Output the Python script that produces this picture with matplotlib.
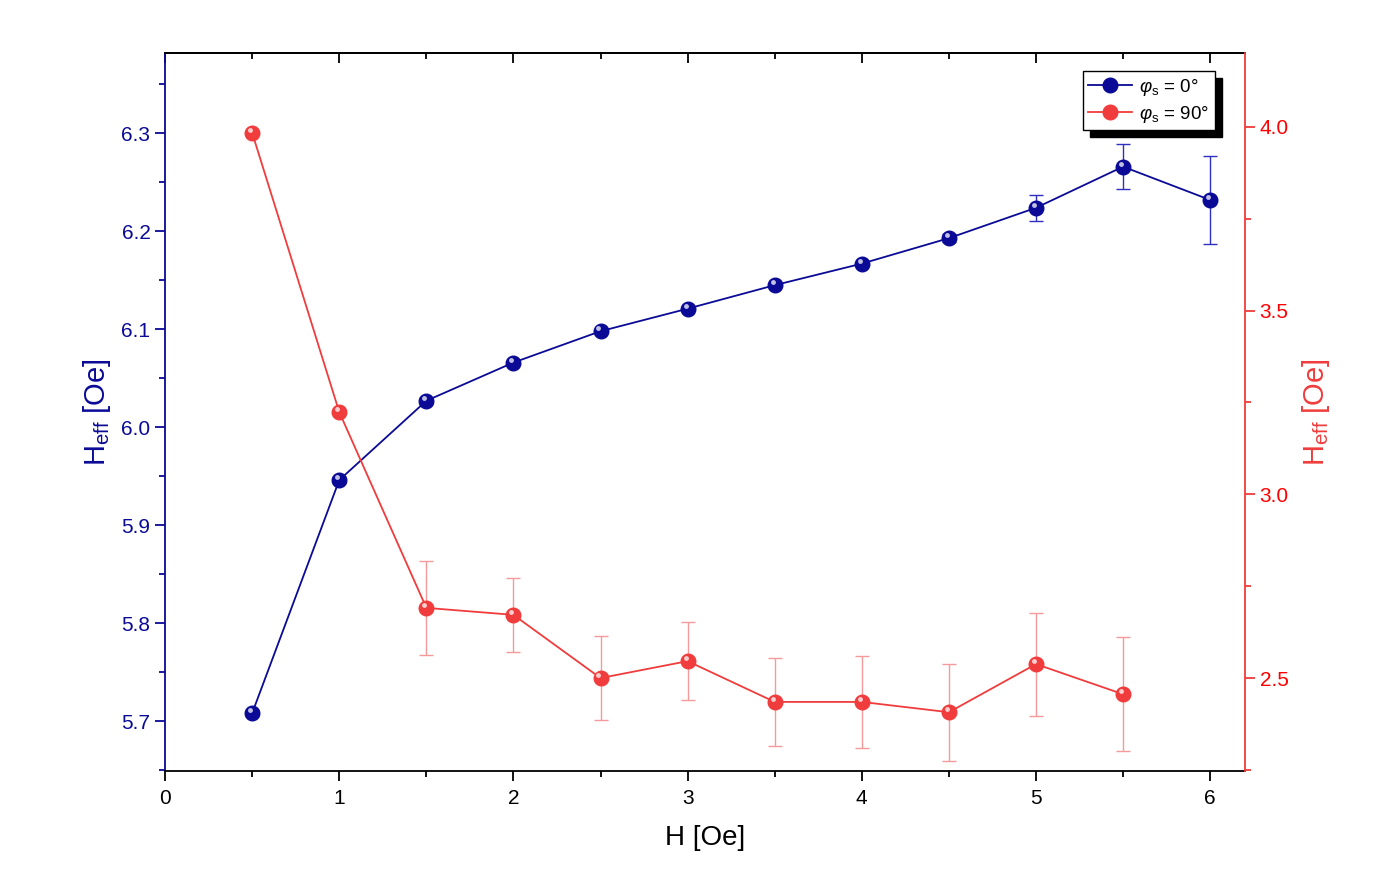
import numpy as np
import matplotlib
matplotlib.use("Agg")
import matplotlib.pyplot as plt
from matplotlib.ticker import MultipleLocator, FormatStrFormatter
from matplotlib.transforms import offset_copy

plt.rcParams["font.family"] = ["Liberation Sans", "DejaVu Sans"]
plt.rcParams["mathtext.fontset"] = "custom"
plt.rcParams["mathtext.rm"] = "Liberation Sans"
plt.rcParams["mathtext.it"] = "Liberation Sans:italic"

# data
h_field = [0.5, 1.0, 1.5, 2.0, 2.5, 3.0, 3.5, 4.0, 4.5, 5.0, 5.5, 6.0]
heff_0 = [5.708, 5.946, 6.027, 6.066, 6.098, 6.121, 6.145, 6.167, 6.193, 6.224, 6.266, 6.232]
err_0 = [0.003, 0.003, 0.003, 0.002, 0.002, 0.002, 0.002, 0.002, 0.004, 0.013, 0.023, 0.045]

h_field_90 = [0.5, 1.0, 1.5, 2.0, 2.5, 3.0, 3.5, 4.0, 4.5, 5.0, 5.5]
heff_90 = [3.984, 3.224, 2.691, 2.672, 2.500, 2.546, 2.435, 2.435, 2.407, 2.538, 2.456]
err_90 = [0.0, 0.0, 0.128, 0.100, 0.114, 0.107, 0.120, 0.125, 0.132, 0.140, 0.155]

blue = "#0a0a96"
red = "#f03c3c"

fig = plt.figure(figsize=(14, 8.96), dpi=100)
ax = fig.add_axes([0.1179, 0.1395, 0.7714, 0.8013])
ax2 = ax.twinx()


def draw_series(axis, x, y, err, color, ecolor, label):
    axis.errorbar(x, y, yerr=err, fmt="none", ecolor=ecolor, elinewidth=1.0,
                  capsize=5, capthick=1.0, zorder=2)
    line, = axis.plot(x, y, "-o", color=color, lw=1.3, ms=10.5,
                      mfc=color, mec=color, zorder=3, label=label)
    # little highlight to fake the shaded sphere look
    hl = offset_copy(axis.transData, fig=fig, x=-1.5, y=2.0, units="points")
    axis.plot(x, y, "o", ms=3.5, mfc="white", mec="none", alpha=0.75,
              transform=hl, zorder=4)
    return line


l1 = draw_series(ax, h_field, heff_0, err_0, blue, "#3030c0", r"$\varphi_\mathrm{s}$ = 0°")
l2 = draw_series(ax2, h_field_90, heff_90, err_90, red, "#f59a9a", r"$\varphi_\mathrm{s}$ = 90°")

ax.set_xlim(0, 6.2)
ax.set_ylim(5.649, 6.382)
ax2.set_ylim(2.247, 4.201)

ax.xaxis.set_major_locator(MultipleLocator(1))
ax.xaxis.set_minor_locator(MultipleLocator(0.5))
ax.yaxis.set_major_locator(MultipleLocator(0.1))
ax.yaxis.set_minor_locator(MultipleLocator(0.05))
ax2.yaxis.set_major_locator(MultipleLocator(0.5))
ax2.yaxis.set_minor_locator(MultipleLocator(0.25))
ax2.yaxis.set_major_formatter(FormatStrFormatter("%.1f"))

ax.tick_params(axis="x", which="both", direction="out", labelsize=15,
               width=1.3, colors="black", pad=6)
ax.tick_params(axis="x", which="major", length=7)
ax.tick_params(axis="x", which="minor", length=4)
ax.tick_params(axis="y", which="both", direction="out", labelsize=15,
               width=1.3, colors=blue)
ax.tick_params(axis="y", which="major", length=7)
ax.tick_params(axis="y", which="minor", length=4)
ax2.tick_params(axis="y", which="both", direction="out", labelsize=15,
                width=1.3, colors=red, labelcolor="#ff0000")
ax2.tick_params(axis="y", which="major", length=7)
ax2.tick_params(axis="y", which="minor", length=4)

# top axis: inward ticks, no labels
top = ax.secondary_xaxis("top")
top.xaxis.set_major_locator(MultipleLocator(1))
top.xaxis.set_minor_locator(MultipleLocator(0.5))
top.tick_params(which="both", direction="in", labeltop=False, width=1.3, colors="black")
top.tick_params(which="major", length=7)
top.tick_params(which="minor", length=4)
top.spines["top"].set_linewidth(1.3)

ax.spines["top"].set_color("black")
ax.spines["bottom"].set_color("black")
ax.spines["top"].set_linewidth(1.3)
ax.spines["bottom"].set_linewidth(1.3)
ax.spines["left"].set_color(blue)
ax.spines["left"].set_linewidth(1.3)
ax2.spines["right"].set_color(red)
ax2.spines["right"].set_linewidth(1.3)
ax2.spines["left"].set_visible(False)
ax2.spines["top"].set_visible(False)
ax2.spines["bottom"].set_visible(False)
ax.spines["right"].set_visible(False)

ax.set_xlabel("H [Oe]", fontsize=20, labelpad=12)
ax.set_ylabel(r"H$_\mathrm{eff}$ [Oe]", fontsize=21, color=blue, labelpad=6)
ax2.set_ylabel(r"H$_\mathrm{eff}$ [Oe]", fontsize=21, color=red, labelpad=8)

leg = ax2.legend([l1, l2], [l1.get_label(), l2.get_label()], loc="upper right",
                 bbox_to_anchor=(0.9805, 0.9875), fontsize=13.5, frameon=True,
                 fancybox=False, edgecolor="black", handlelength=2.3,
                 borderpad=0.3, labelspacing=0.3, handletextpad=0.4,
                 shadow={"color": "black", "alpha": 1.0, "ox": 5, "oy": -5})
leg.get_frame().set_linewidth(1.0)

fig.savefig("out.png", dpi=100)
